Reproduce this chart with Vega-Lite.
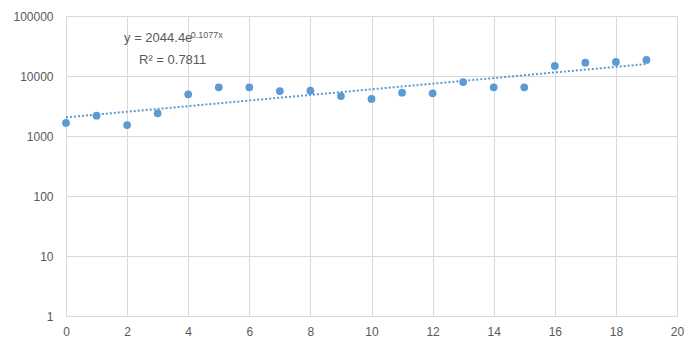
{
  "$schema": "https://vega.github.io/schema/vega-lite/v6.json",
  "width": 611,
  "height": 300,
  "autosize": "none",
  "padding": {"left": 66, "top": 16, "right": 23, "bottom": 35},
  "background": "white",
  "config": {
    "view": {"stroke": null},
    "font": "Liberation Sans",
    "axis": {
      "gridColor": "#D9D9D9",
      "gridWidth": 1,
      "domainColor": "#D9D9D9",
      "ticks": false,
      "labelColor": "#595959",
      "labelFontSize": 12,
      "labelFont": "Liberation Sans",
      "labelFlush": false,
      "title": null
    }
  },
  "datasets": {
    "points": [
      {"x": 0, "y": 1648},
      {"x": 1, "y": 2180},
      {"x": 2, "y": 1525},
      {"x": 3, "y": 2390},
      {"x": 4, "y": 4955},
      {"x": 5, "y": 6490},
      {"x": 6, "y": 6490},
      {"x": 7, "y": 5620},
      {"x": 8, "y": 5690},
      {"x": 9, "y": 4640},
      {"x": 10, "y": 4140},
      {"x": 11, "y": 5270},
      {"x": 12, "y": 5150},
      {"x": 13, "y": 7940},
      {"x": 14, "y": 6490},
      {"x": 15, "y": 6490},
      {"x": 16, "y": 14680},
      {"x": 17, "y": 16670},
      {"x": 18, "y": 17120},
      {"x": 19, "y": 18480}
    ],
    "trend": [
      {"x": 0, "y": 2044.4},
      {"x": 19, "y": 15823}
    ],
    "labels": [
      {"x": 1.9, "y": 43000, "label": "y = 2044.4e"},
      {"x": 2.39, "y": 18480, "label": "R² = 0.7811"}
    ],
    "sup": [
      {"x": 4.08, "y": 48500, "label": "0.1077x"}
    ]
  },
  "layer": [
    {
      "data": {"name": "points"},
      "mark": {"type": "point", "filled": true, "opacity": 1, "size": 60, "color": "#5B9BD5"},
      "encoding": {
        "x": {
          "field": "x", "type": "quantitative",
          "scale": {"domain": [0, 20], "nice": false},
          "axis": {"values": [0, 2, 4, 6, 8, 10, 12, 14, 16, 18, 20], "labelPadding": 10, "format": "d"}
        },
        "y": {
          "field": "y", "type": "quantitative",
          "scale": {"type": "log", "domain": [1, 100000], "nice": false},
          "axis": {"values": [1, 10, 100, 1000, 10000, 100000], "format": "d", "labelPadding": 13}
        }
      }
    },
    {
      "data": {"name": "trend"},
      "mark": {"type": "line", "color": "#5B9BD5", "strokeWidth": 2, "strokeDash": [2, 2]},
      "encoding": {
        "x": {"field": "x", "type": "quantitative"},
        "y": {"field": "y", "type": "quantitative"}
      }
    },
    {
      "data": {"name": "labels"},
      "mark": {"type": "text", "align": "left", "baseline": "middle", "fontSize": 13, "color": "#595959", "font": "Liberation Sans"},
      "encoding": {
        "x": {"field": "x", "type": "quantitative"},
        "y": {"field": "y", "type": "quantitative"},
        "text": {"field": "label"}
      }
    },
    {
      "data": {"name": "sup"},
      "mark": {"type": "text", "align": "left", "baseline": "middle", "fontSize": 9, "color": "#595959", "font": "Liberation Sans"},
      "encoding": {
        "x": {"field": "x", "type": "quantitative"},
        "y": {"field": "y", "type": "quantitative"},
        "text": {"field": "label"}
      }
    }
  ]
}
